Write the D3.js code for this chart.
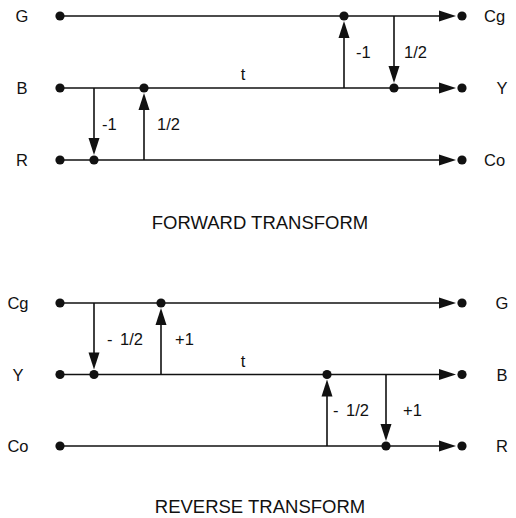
<!DOCTYPE html>
<html><head><meta charset="utf-8">
<script src="https://cdn.jsdelivr.net/npm/d3@7"></script>
<style>body{margin:0;background:#fff}svg{display:block}text{font-family:"Liberation Sans",Arial,sans-serif;fill:#111}</style>
</head><body><svg id="c" width="516" height="518"></svg>
<script>
// ---- data ----
const fwdInputs = ["G", "B", "R"];
const fwdOutputs = ["Cg", "Y", "Co"];
const fwdSteps = [ // vertical adder steps: x position (diagram units), from row, to row, label
  {x: 34, from: "B", to: "R", label: "-1"},
  {x: 84, from: "R", to: "B", label: "1/2"},
  {x: 284, from: "B", to: "G", label: "-1"},
  {x: 334, from: "G", to: "B", label: "1/2"}
];
const fwdTemp = {row: "B", x: 183, label: "t"};
const fwdTitle = "FORWARD TRANSFORM";

const revInputs = ["Cg", "Y", "Co"];
const revOutputs = ["G", "B", "R"];
const revSteps = [
  {x: 34, from: "Cg", to: "Y", label: "- 1/2"},
  {x: 101, from: "Y", to: "Cg", label: "+1"},
  {x: 267, from: "Co", to: "Y", label: "- 1/2"},
  {x: 326, from: "Y", to: "Co", label: "+1"}
];
const revTemp = {row: "Y", x: 183, label: "t"};
const revTitle = "REVERSE TRANSFORM";

// ---- layout (label offsets from each step's line, px) ----
const fwdLabelDx = [8, 13, 12, 10];
const revLabelDx = [13, 14, 6, 17];

// ---- drawing ----
const svg = d3.select("#c");
const x = d3.scaleLinear().domain([0, 402]).range([60, 462]);
const R = 4.6, AH = 17, AW = 5.5, GAP = 5;

function panel(g, inputs, outputs, steps, labelDx, temp, title, yTop, yBot, titleY, inLabelX) {
  const y = d3.scalePoint().domain(inputs).range([yTop, yBot]);
  const x0 = x(0), x1 = x(402);
  const tip = x1 - 6;
  inputs.forEach((r, i) => {
    const yy = y(r);
    g.append("line").attr("x1", x0).attr("x2", tip - AH + 1).attr("y1", yy).attr("y2", yy)
      .attr("stroke", "#111").attr("stroke-width", 1.6);
    g.append("path").attr("d", `M${tip},${yy} L${tip - AH},${yy - AW} L${tip - AH},${yy + AW} Z`).attr("fill", "#111");
    g.append("circle").attr("cx", x0).attr("cy", yy).attr("r", R).attr("fill", "#111");
    g.append("circle").attr("cx", x1).attr("cy", yy).attr("r", R).attr("fill", "#111");
    g.append("text").attr("x", inLabelX).attr("y", yy + 6).attr("text-anchor", "middle")
      .attr("font-size", 16.5).text(r);
    g.append("text").attr("x", outputs[i].length > 1 ? 484 : 502).attr("y", yy + 6)
      .attr("text-anchor", outputs[i].length > 1 ? "start" : "middle")
      .attr("font-size", 16.5).text(outputs[i]);
  });
  steps.forEach((s, i) => {
    const xx = x(s.x), ya = y(s.from), yb = y(s.to);
    const dir = yb > ya ? 1 : -1;
    const t = yb - dir * GAP;
    g.append("line").attr("x1", xx).attr("x2", xx).attr("y1", ya).attr("y2", t - dir * (AH - 1))
      .attr("stroke", "#111").attr("stroke-width", 1.6);
    g.append("path").attr("d", `M${xx},${t} L${xx - AW},${t - dir * AH} L${xx + AW},${t - dir * AH} Z`).attr("fill", "#111");
    g.append("circle").attr("cx", xx).attr("cy", yb).attr("r", R).attr("fill", "#111");
    g.append("text").attr("x", xx + labelDx[i]).attr("y", (ya + yb) / 2 + 6).attr("font-size", 16.5)
      .attr("word-spacing", 3).text(s.label);
  });
  g.append("text").attr("x", x(temp.x)).attr("y", y(temp.row) - 8).attr("font-size", 16.5)
    .attr("text-anchor", "middle").text(temp.label);
  g.append("text").attr("x", 260).attr("y", titleY).attr("text-anchor", "middle")
    .attr("font-size", 18.5).text(title);
}

panel(svg.append("g"), fwdInputs, fwdOutputs, fwdSteps, fwdLabelDx, fwdTemp, fwdTitle, 16, 160, 229, 22);
panel(svg.append("g"), revInputs, revOutputs, revSteps, revLabelDx, revTemp, revTitle, 303, 446, 513, 18);
</script></body></html>
